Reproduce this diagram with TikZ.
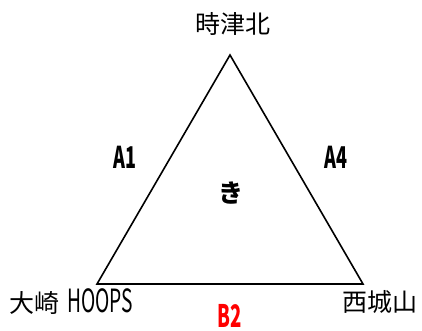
\documentclass[tikz,border=0pt]{standalone}
\usepackage{fontspec}
\setmainfont{Noto Sans CJK JP}
\newfontfamily\jpfont{Noto Sans CJK JP}
\newfontfamily\narrowfont[FakeStretch=0.6]{Noto Sans CJK JP}
\begin{document}
\begin{tikzpicture}[x=1pt,y=-1pt,
  place/.style={font=\jpfont\fontsize{25}{25}\selectfont, inner sep=0pt},
  edgelab/.style={font=\narrowfont\bfseries\fontsize{30}{30}\selectfont, inner sep=0pt},
  tri/.style={draw=black, line width=1.6pt, line join=miter}]
\useasboundingbox (0,0) rectangle (422,331);
\coordinate (top) at (230,55);
\coordinate (bl) at (97,284);
\coordinate (br) at (363,284);
\draw[tri] (top) -- (bl) -- (br) -- cycle;
\node[place] (ntop) at (233,24) {時津北};
\node[place, anchor=west] (nbl) at (9,302) {大崎\hspace{8pt}{\narrowfont\fontsize{32}{32}\selectfont HOOPS}};
\node[place] (nbr) at (380,302) {西城山};
\node[edgelab] (a1) at (125,157) {A1};
\node[edgelab] (a4) at (336,157) {A4};
\node[font=\jpfont\bfseries\fontsize{25}{25}\selectfont, inner sep=0pt] (ki) at (231,193) {き};
\node[edgelab, text=red, font=\narrowfont\bfseries\fontsize{31}{31}\selectfont] (b2) at (230,316) {B2};
\end{tikzpicture}
\end{document}
